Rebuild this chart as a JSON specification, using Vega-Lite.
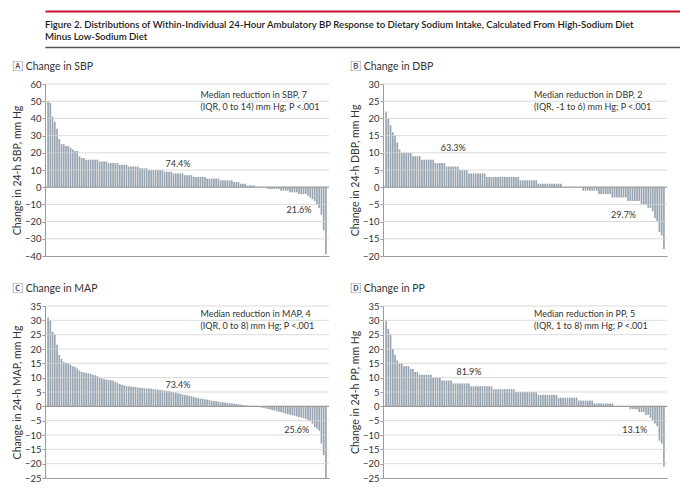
{
  "$schema": "https://vega.github.io/schema/vega-lite/v6.json",
  "padding": {"left": 12, "top": 11, "right": 4, "bottom": 0},
  "background": "white",
  "datasets": {
    "one": [{}],
    "bp": [
      {"i":1,"sbp":50,"dbp":22,"map":31,"pp":30},
      {"i":2,"sbp":49,"dbp":20,"map":30,"pp":27},
      {"i":3,"sbp":41,"dbp":18,"map":26,"pp":25},
      {"i":4,"sbp":38,"dbp":16,"map":25,"pp":20},
      {"i":5,"sbp":34,"dbp":15,"map":21.5,"pp":18},
      {"i":6,"sbp":28,"dbp":13,"map":18,"pp":16},
      {"i":7,"sbp":25,"dbp":11,"map":16.5,"pp":15},
      {"i":8,"sbp":25,"dbp":10,"map":15.5,"pp":15},
      {"i":9,"sbp":24,"dbp":10,"map":15.2,"pp":14},
      {"i":10,"sbp":24,"dbp":10,"map":15,"pp":14},
      {"i":11,"sbp":23,"dbp":10,"map":14.5,"pp":14},
      {"i":12,"sbp":22,"dbp":10,"map":14,"pp":13},
      {"i":13,"sbp":21,"dbp":9,"map":13.8,"pp":13},
      {"i":14,"sbp":21,"dbp":9,"map":13.2,"pp":12},
      {"i":15,"sbp":18,"dbp":9,"map":12.5,"pp":12},
      {"i":16,"sbp":17,"dbp":9,"map":12,"pp":11},
      {"i":17,"sbp":17,"dbp":8,"map":11.8,"pp":11},
      {"i":18,"sbp":16,"dbp":8,"map":11.7,"pp":11},
      {"i":19,"sbp":16,"dbp":8,"map":11.5,"pp":11},
      {"i":20,"sbp":16,"dbp":8,"map":11.3,"pp":11},
      {"i":21,"sbp":16,"dbp":8,"map":11,"pp":11},
      {"i":22,"sbp":16,"dbp":8,"map":10.8,"pp":10},
      {"i":23,"sbp":16,"dbp":7,"map":10.5,"pp":10},
      {"i":24,"sbp":15,"dbp":7,"map":10,"pp":10},
      {"i":25,"sbp":15,"dbp":7,"map":9.7,"pp":10},
      {"i":26,"sbp":15,"dbp":7,"map":9.5,"pp":9},
      {"i":27,"sbp":15,"dbp":7,"map":9.3,"pp":9},
      {"i":28,"sbp":14,"dbp":6,"map":9.2,"pp":9},
      {"i":29,"sbp":14,"dbp":6,"map":9.1,"pp":9},
      {"i":30,"sbp":14,"dbp":6,"map":9,"pp":9},
      {"i":31,"sbp":14,"dbp":6,"map":8.6,"pp":8},
      {"i":32,"sbp":14,"dbp":6,"map":8.2,"pp":8},
      {"i":33,"sbp":13,"dbp":6,"map":7.8,"pp":8},
      {"i":34,"sbp":13,"dbp":5,"map":7.5,"pp":8},
      {"i":35,"sbp":13,"dbp":5,"map":7.3,"pp":8},
      {"i":36,"sbp":13,"dbp":5,"map":7.1,"pp":8},
      {"i":37,"sbp":12,"dbp":5,"map":7,"pp":8},
      {"i":38,"sbp":12,"dbp":4,"map":6.9,"pp":8},
      {"i":39,"sbp":12,"dbp":4,"map":6.8,"pp":7},
      {"i":40,"sbp":12,"dbp":4,"map":6.7,"pp":7},
      {"i":41,"sbp":12,"dbp":4,"map":6.6,"pp":7},
      {"i":42,"sbp":11,"dbp":4,"map":6.5,"pp":7},
      {"i":43,"sbp":11,"dbp":4,"map":6.4,"pp":7},
      {"i":44,"sbp":11,"dbp":4,"map":6.3,"pp":7},
      {"i":45,"sbp":11,"dbp":4,"map":6.2,"pp":7},
      {"i":46,"sbp":10,"dbp":3,"map":6.2,"pp":7},
      {"i":47,"sbp":10,"dbp":3,"map":6.1,"pp":7},
      {"i":48,"sbp":10,"dbp":3,"map":6,"pp":7},
      {"i":49,"sbp":10,"dbp":3,"map":5.9,"pp":6},
      {"i":50,"sbp":10,"dbp":3,"map":5.8,"pp":6},
      {"i":51,"sbp":10,"dbp":3,"map":5.7,"pp":6},
      {"i":52,"sbp":10,"dbp":3,"map":5.6,"pp":6},
      {"i":53,"sbp":9,"dbp":3,"map":5.5,"pp":6},
      {"i":54,"sbp":9,"dbp":3,"map":5.4,"pp":6},
      {"i":55,"sbp":9,"dbp":3,"map":5.3,"pp":6},
      {"i":56,"sbp":9,"dbp":3,"map":5.1,"pp":6},
      {"i":57,"sbp":8,"dbp":3,"map":5,"pp":6},
      {"i":58,"sbp":8,"dbp":3,"map":4.8,"pp":6},
      {"i":59,"sbp":8,"dbp":3,"map":4.6,"pp":5},
      {"i":60,"sbp":8,"dbp":3,"map":4.4,"pp":5},
      {"i":61,"sbp":8,"dbp":2,"map":4.2,"pp":5},
      {"i":62,"sbp":7,"dbp":2,"map":4,"pp":5},
      {"i":63,"sbp":7,"dbp":2,"map":3.9,"pp":5},
      {"i":64,"sbp":7,"dbp":2,"map":3.7,"pp":5},
      {"i":65,"sbp":7,"dbp":2,"map":3.5,"pp":5},
      {"i":66,"sbp":6,"dbp":2,"map":3.3,"pp":5},
      {"i":67,"sbp":6,"dbp":2,"map":3.1,"pp":5},
      {"i":68,"sbp":6,"dbp":2,"map":2.9,"pp":5},
      {"i":69,"sbp":6,"dbp":1,"map":2.7,"pp":4},
      {"i":70,"sbp":6,"dbp":1,"map":2.6,"pp":4},
      {"i":71,"sbp":6,"dbp":1,"map":2.5,"pp":4},
      {"i":72,"sbp":5,"dbp":1,"map":2.3,"pp":4},
      {"i":73,"sbp":5,"dbp":1,"map":2.2,"pp":4},
      {"i":74,"sbp":5,"dbp":1,"map":2,"pp":4},
      {"i":75,"sbp":5,"dbp":1,"map":1.9,"pp":4},
      {"i":76,"sbp":5,"dbp":1,"map":1.8,"pp":4},
      {"i":77,"sbp":5,"dbp":1,"map":1.6,"pp":4},
      {"i":78,"sbp":4,"dbp":1,"map":1.5,"pp":3},
      {"i":79,"sbp":4,"dbp":1,"map":1.4,"pp":3},
      {"i":80,"sbp":4,"dbp":0,"map":1.3,"pp":3},
      {"i":81,"sbp":4,"dbp":0,"map":1.2,"pp":3},
      {"i":82,"sbp":4,"dbp":0,"map":1.1,"pp":3},
      {"i":83,"sbp":4,"dbp":0,"map":1,"pp":3},
      {"i":84,"sbp":3,"dbp":0,"map":0.9,"pp":3},
      {"i":85,"sbp":3,"dbp":0,"map":0.8,"pp":3},
      {"i":86,"sbp":3,"dbp":0,"map":0.7,"pp":3},
      {"i":87,"sbp":2,"dbp":0,"map":0.6,"pp":2},
      {"i":88,"sbp":2,"dbp":0,"map":0.5,"pp":2},
      {"i":89,"sbp":2,"dbp":-1,"map":0.4,"pp":2},
      {"i":90,"sbp":1,"dbp":-1,"map":0.3,"pp":2},
      {"i":91,"sbp":1,"dbp":-1,"map":0.2,"pp":2},
      {"i":92,"sbp":1,"dbp":-1,"map":0.1,"pp":2},
      {"i":93,"sbp":1,"dbp":-1,"map":0,"pp":2},
      {"i":94,"sbp":0,"dbp":-1,"map":-0.1,"pp":1},
      {"i":95,"sbp":0,"dbp":-1,"map":-0.2,"pp":1},
      {"i":96,"sbp":0,"dbp":-2,"map":-0.4,"pp":1},
      {"i":97,"sbp":0,"dbp":-2,"map":-0.5,"pp":1},
      {"i":98,"sbp":0,"dbp":-2,"map":-0.7,"pp":1},
      {"i":99,"sbp":-1,"dbp":-2,"map":-0.9,"pp":1},
      {"i":100,"sbp":-1,"dbp":-2,"map":-1.1,"pp":1},
      {"i":101,"sbp":-1,"dbp":-2,"map":-1.3,"pp":1},
      {"i":102,"sbp":-1,"dbp":-3,"map":-1.5,"pp":1},
      {"i":103,"sbp":-1,"dbp":-3,"map":-1.7,"pp":0},
      {"i":104,"sbp":-1,"dbp":-3,"map":-1.9,"pp":0},
      {"i":105,"sbp":-2,"dbp":-3,"map":-2.1,"pp":0},
      {"i":106,"sbp":-2,"dbp":-3,"map":-2.3,"pp":0},
      {"i":107,"sbp":-2,"dbp":-3,"map":-2.5,"pp":0},
      {"i":108,"sbp":-2,"dbp":-3,"map":-2.7,"pp":0},
      {"i":109,"sbp":-3,"dbp":-4,"map":-2.9,"pp":0},
      {"i":110,"sbp":-3,"dbp":-4,"map":-3.1,"pp":-1},
      {"i":111,"sbp":-3,"dbp":-4,"map":-3.3,"pp":-1},
      {"i":112,"sbp":-3,"dbp":-4,"map":-3.5,"pp":-1},
      {"i":113,"sbp":-4,"dbp":-4,"map":-3.7,"pp":-1},
      {"i":114,"sbp":-4,"dbp":-4,"map":-3.9,"pp":-2},
      {"i":115,"sbp":-4,"dbp":-5,"map":-4.1,"pp":-2},
      {"i":116,"sbp":-4,"dbp":-5,"map":-4.4,"pp":-2},
      {"i":117,"sbp":-5,"dbp":-5,"map":-4.8,"pp":-3},
      {"i":118,"sbp":-6,"dbp":-6,"map":-5.2,"pp":-3},
      {"i":119,"sbp":-7,"dbp":-6,"map":-6,"pp":-4},
      {"i":120,"sbp":-8,"dbp":-7,"map":-7.2,"pp":-5},
      {"i":121,"sbp":-10,"dbp":-9,"map":-7.8,"pp":-6},
      {"i":122,"sbp":-12,"dbp":-10,"map":-8.5,"pp":-7},
      {"i":123,"sbp":-16,"dbp":-13,"map":-13,"pp":-12},
      {"i":124,"sbp":-25,"dbp":-14,"map":-17,"pp":-13},
      {"i":125,"sbp":-39,"dbp":-18,"map":-25,"pp":-21}
    ]
  },
  "spacing": 14,
  "vconcat": [
    {
      "width": 656,
      "height": 36,
      "data": {"name": "one"},
      "layer": [
        {
          "mark": {"type": "text", "align": "left", "baseline": "alphabetic", "fontSize": 9.6, "fontWeight": 600, "color": "#1a1a1a", "text": "Figure 2. Distributions of Within-Individual 24-Hour Ambulatory BP Response to Dietary Sodium Intake, Calculated From High-Sodium Diet"},
          "encoding": {
            "x": {"datum": 0, "type": "quantitative", "scale": {"domain": [0, 1]}, "axis": {"orient": "top", "labels": false, "ticks": false, "grid": false, "title": null, "domainColor": "#c8102e", "domainWidth": 2}},
            "y": {"datum": 0.53, "type": "quantitative", "scale": {"domain": [0, 1]}, "axis": null}
          }
        },
        {
          "mark": {"type": "text", "align": "left", "baseline": "alphabetic", "fontSize": 9.6, "fontWeight": 600, "color": "#1a1a1a", "text": "Minus Low-Sodium Diet"},
          "encoding": {
            "x": {"datum": 0, "type": "quantitative", "scale": {"domain": [0, 1]}, "axis": {"orient": "bottom", "labels": false, "ticks": false, "grid": false, "title": null, "domainColor": "#555555", "domainWidth": 1.5}},
            "y": {"datum": 0.19, "type": "quantitative", "scale": {"domain": [0, 1]}, "axis": null}
          }
        }
      ],
      "resolve": {"scale": {"x": "independent"}}
    },
    {
      "spacing": 13,
      "vconcat": [
        {
          "columns": 2,
          "spacing": {"row": 22, "column": 20},
          "concat": [
            {
              "width": 284, "height": 172,
              "title": {"text": "🄰 Change in SBP"},
              "layer": [
                {
                  "data": {"name": "bp"},
                  "mark": {"type": "bar", "color": "#98a4b0"},
                  "encoding": {
                    "x": {"field": "i", "type": "ordinal", "scale": {"paddingInner": 0.25, "paddingOuter": 4.5}, "axis": {"labels": false, "ticks": false, "title": null, "grid": false}},
                    "y": {"field": "sbp", "type": "quantitative", "scale": {"domain": [-40, 60]}, "axis": {"values": [-40,-30,-20,-10,0,10,20,30,40,50,60], "tickCount": 30, "grid": false, "labelOverlap": false, "title": "Change in 24-h SBP, mm Hg"}}
                  }
                },
                {"data": {"name": "one"}, "mark": {"type": "rule", "color": "#d2d2d2", "strokeWidth": 1, "opacity": 0.8}, "encoding": {"y": {"datum": 60}}},
                {"data": {"name": "one"}, "mark": {"type": "rule", "color": "#d2d2d2", "strokeWidth": 1, "opacity": 0.8}, "encoding": {"y": {"datum": 50}}},
                {"data": {"name": "one"}, "mark": {"type": "rule", "color": "#d2d2d2", "strokeWidth": 1, "opacity": 0.8}, "encoding": {"y": {"datum": 40}}},
                {"data": {"name": "one"}, "mark": {"type": "rule", "color": "#d2d2d2", "strokeWidth": 1, "opacity": 0.8}, "encoding": {"y": {"datum": 30}}},
                {"data": {"name": "one"}, "mark": {"type": "rule", "color": "#d2d2d2", "strokeWidth": 1, "opacity": 0.8}, "encoding": {"y": {"datum": 20}}},
                {"data": {"name": "one"}, "mark": {"type": "rule", "color": "#d2d2d2", "strokeWidth": 1, "opacity": 0.8}, "encoding": {"y": {"datum": 10}}},
                {"data": {"name": "one"}, "mark": {"type": "rule", "color": "#d2d2d2", "strokeWidth": 1, "opacity": 0.8}, "encoding": {"y": {"datum": -10}}},
                {"data": {"name": "one"}, "mark": {"type": "rule", "color": "#d2d2d2", "strokeWidth": 1, "opacity": 0.8}, "encoding": {"y": {"datum": -20}}},
                {"data": {"name": "one"}, "mark": {"type": "rule", "color": "#d2d2d2", "strokeWidth": 1, "opacity": 0.8}, "encoding": {"y": {"datum": -30}}},
                {"data": {"name": "one"}, "mark": {"type": "rule", "color": "#9a9a9a", "strokeWidth": 1.2}, "encoding": {"y": {"datum": 0}}},
                {"data": {"name": "one"}, "mark": {"type": "text", "align": "left", "baseline": "top", "lineHeight": 12, "text": ["Median reduction in SBP, 7", "(IQR, 0 to 14) mm Hg; P <.001"]}, "encoding": {"x": {"datum": 69, "type": "ordinal"}, "y": {"datum": 56.2}}},
                {"data": {"name": "one"}, "mark": {"type": "text", "text": "74.4%"}, "encoding": {"x": {"datum": 59, "type": "ordinal"}, "y": {"datum": 13.2}}},
                {"data": {"name": "one"}, "mark": {"type": "text", "text": "21.6%"}, "encoding": {"x": {"datum": 113, "type": "ordinal"}, "y": {"datum": -13.5}}}
              ]
            },
            {
              "width": 284, "height": 172,
              "title": {"text": "🄱 Change in DBP"},
              "layer": [
                {
                  "data": {"name": "bp"},
                  "mark": {"type": "bar", "color": "#98a4b0"},
                  "encoding": {
                    "x": {"field": "i", "type": "ordinal", "scale": {"paddingInner": 0.25, "paddingOuter": 4.5}, "axis": {"labels": false, "ticks": false, "title": null, "grid": false}},
                    "y": {"field": "dbp", "type": "quantitative", "scale": {"domain": [-20, 30]}, "axis": {"values": [-20,-15,-10,-5,0,5,10,15,20,25,30], "tickCount": 30, "grid": false, "labelOverlap": false, "title": "Change in 24-h DBP, mm Hg"}}
                  }
                },
                {"data": {"name": "one"}, "mark": {"type": "rule", "color": "#d2d2d2", "strokeWidth": 1, "opacity": 0.8}, "encoding": {"y": {"datum": 30}}},
                {"data": {"name": "one"}, "mark": {"type": "rule", "color": "#d2d2d2", "strokeWidth": 1, "opacity": 0.8}, "encoding": {"y": {"datum": 25}}},
                {"data": {"name": "one"}, "mark": {"type": "rule", "color": "#d2d2d2", "strokeWidth": 1, "opacity": 0.8}, "encoding": {"y": {"datum": 20}}},
                {"data": {"name": "one"}, "mark": {"type": "rule", "color": "#d2d2d2", "strokeWidth": 1, "opacity": 0.8}, "encoding": {"y": {"datum": 15}}},
                {"data": {"name": "one"}, "mark": {"type": "rule", "color": "#d2d2d2", "strokeWidth": 1, "opacity": 0.8}, "encoding": {"y": {"datum": 10}}},
                {"data": {"name": "one"}, "mark": {"type": "rule", "color": "#d2d2d2", "strokeWidth": 1, "opacity": 0.8}, "encoding": {"y": {"datum": 5}}},
                {"data": {"name": "one"}, "mark": {"type": "rule", "color": "#d2d2d2", "strokeWidth": 1, "opacity": 0.8}, "encoding": {"y": {"datum": -5}}},
                {"data": {"name": "one"}, "mark": {"type": "rule", "color": "#d2d2d2", "strokeWidth": 1, "opacity": 0.8}, "encoding": {"y": {"datum": -10}}},
                {"data": {"name": "one"}, "mark": {"type": "rule", "color": "#d2d2d2", "strokeWidth": 1, "opacity": 0.8}, "encoding": {"y": {"datum": -15}}},
                {"data": {"name": "one"}, "mark": {"type": "rule", "color": "#9a9a9a", "strokeWidth": 1.2}, "encoding": {"y": {"datum": 0}}},
                {"data": {"name": "one"}, "mark": {"type": "text", "align": "left", "baseline": "top", "lineHeight": 12, "text": ["Median reduction in DBP, 2", "(IQR, -1 to 6) mm Hg; P <.001"]}, "encoding": {"x": {"datum": 67, "type": "ordinal"}, "y": {"datum": 28.1}}},
                {"data": {"name": "one"}, "mark": {"type": "text", "text": "63.3%"}, "encoding": {"x": {"datum": 31, "type": "ordinal"}, "y": {"datum": 11.3}}},
                {"data": {"name": "one"}, "mark": {"type": "text", "text": "29.7%"}, "encoding": {"x": {"datum": 107, "type": "ordinal"}, "y": {"datum": -8}}}
              ]
            },
            {
              "width": 284, "height": 172,
              "title": {"text": "🄲 Change in MAP"},
              "layer": [
                {
                  "data": {"name": "bp"},
                  "mark": {"type": "bar", "color": "#98a4b0"},
                  "encoding": {
                    "x": {"field": "i", "type": "ordinal", "scale": {"paddingInner": 0.25, "paddingOuter": 4.5}, "axis": {"labels": false, "ticks": false, "title": null, "grid": false}},
                    "y": {"field": "map", "type": "quantitative", "scale": {"domain": [-25, 35]}, "axis": {"values": [-25,-20,-15,-10,-5,0,5,10,15,20,25,30,35], "tickCount": 30, "grid": false, "labelOverlap": false, "title": "Change in 24-h MAP, mm Hg"}}
                  }
                },
                {"data": {"name": "one"}, "mark": {"type": "rule", "color": "#d2d2d2", "strokeWidth": 1, "opacity": 0.8}, "encoding": {"y": {"datum": 35}}},
                {"data": {"name": "one"}, "mark": {"type": "rule", "color": "#d2d2d2", "strokeWidth": 1, "opacity": 0.8}, "encoding": {"y": {"datum": 30}}},
                {"data": {"name": "one"}, "mark": {"type": "rule", "color": "#d2d2d2", "strokeWidth": 1, "opacity": 0.8}, "encoding": {"y": {"datum": 25}}},
                {"data": {"name": "one"}, "mark": {"type": "rule", "color": "#d2d2d2", "strokeWidth": 1, "opacity": 0.8}, "encoding": {"y": {"datum": 20}}},
                {"data": {"name": "one"}, "mark": {"type": "rule", "color": "#d2d2d2", "strokeWidth": 1, "opacity": 0.8}, "encoding": {"y": {"datum": 15}}},
                {"data": {"name": "one"}, "mark": {"type": "rule", "color": "#d2d2d2", "strokeWidth": 1, "opacity": 0.8}, "encoding": {"y": {"datum": 10}}},
                {"data": {"name": "one"}, "mark": {"type": "rule", "color": "#d2d2d2", "strokeWidth": 1, "opacity": 0.8}, "encoding": {"y": {"datum": 5}}},
                {"data": {"name": "one"}, "mark": {"type": "rule", "color": "#d2d2d2", "strokeWidth": 1, "opacity": 0.8}, "encoding": {"y": {"datum": -5}}},
                {"data": {"name": "one"}, "mark": {"type": "rule", "color": "#d2d2d2", "strokeWidth": 1, "opacity": 0.8}, "encoding": {"y": {"datum": -10}}},
                {"data": {"name": "one"}, "mark": {"type": "rule", "color": "#d2d2d2", "strokeWidth": 1, "opacity": 0.8}, "encoding": {"y": {"datum": -15}}},
                {"data": {"name": "one"}, "mark": {"type": "rule", "color": "#d2d2d2", "strokeWidth": 1, "opacity": 0.8}, "encoding": {"y": {"datum": -20}}},
                {"data": {"name": "one"}, "mark": {"type": "rule", "color": "#9a9a9a", "strokeWidth": 1.2}, "encoding": {"y": {"datum": 0}}},
                {"data": {"name": "one"}, "mark": {"type": "text", "align": "left", "baseline": "top", "lineHeight": 12, "text": ["Median reduction in MAP, 4", "(IQR, 0 to 8) mm Hg;  P <.001"]}, "encoding": {"x": {"datum": 69, "type": "ordinal"}, "y": {"datum": 33.7}}},
                {"data": {"name": "one"}, "mark": {"type": "text", "text": "73.4%"}, "encoding": {"x": {"datum": 59, "type": "ordinal"}, "y": {"datum": 7.5}}},
                {"data": {"name": "one"}, "mark": {"type": "text", "text": "25.6%"}, "encoding": {"x": {"datum": 112, "type": "ordinal"}, "y": {"datum": -8.4}}}
              ]
            },
            {
              "width": 284, "height": 172,
              "title": {"text": "🄳 Change in PP"},
              "layer": [
                {
                  "data": {"name": "bp"},
                  "mark": {"type": "bar", "color": "#98a4b0"},
                  "encoding": {
                    "x": {"field": "i", "type": "ordinal", "scale": {"paddingInner": 0.25, "paddingOuter": 4.5}, "axis": {"labels": false, "ticks": false, "title": null, "grid": false}},
                    "y": {"field": "pp", "type": "quantitative", "scale": {"domain": [-25, 35]}, "axis": {"values": [-25,-20,-15,-10,-5,0,5,10,15,20,25,30,35], "tickCount": 30, "grid": false, "labelOverlap": false, "title": "Change in 24-h PP, mm Hg"}}
                  }
                },
                {"data": {"name": "one"}, "mark": {"type": "rule", "color": "#d2d2d2", "strokeWidth": 1, "opacity": 0.8}, "encoding": {"y": {"datum": 35}}},
                {"data": {"name": "one"}, "mark": {"type": "rule", "color": "#d2d2d2", "strokeWidth": 1, "opacity": 0.8}, "encoding": {"y": {"datum": 30}}},
                {"data": {"name": "one"}, "mark": {"type": "rule", "color": "#d2d2d2", "strokeWidth": 1, "opacity": 0.8}, "encoding": {"y": {"datum": 25}}},
                {"data": {"name": "one"}, "mark": {"type": "rule", "color": "#d2d2d2", "strokeWidth": 1, "opacity": 0.8}, "encoding": {"y": {"datum": 20}}},
                {"data": {"name": "one"}, "mark": {"type": "rule", "color": "#d2d2d2", "strokeWidth": 1, "opacity": 0.8}, "encoding": {"y": {"datum": 15}}},
                {"data": {"name": "one"}, "mark": {"type": "rule", "color": "#d2d2d2", "strokeWidth": 1, "opacity": 0.8}, "encoding": {"y": {"datum": 10}}},
                {"data": {"name": "one"}, "mark": {"type": "rule", "color": "#d2d2d2", "strokeWidth": 1, "opacity": 0.8}, "encoding": {"y": {"datum": 5}}},
                {"data": {"name": "one"}, "mark": {"type": "rule", "color": "#d2d2d2", "strokeWidth": 1, "opacity": 0.8}, "encoding": {"y": {"datum": -5}}},
                {"data": {"name": "one"}, "mark": {"type": "rule", "color": "#d2d2d2", "strokeWidth": 1, "opacity": 0.8}, "encoding": {"y": {"datum": -10}}},
                {"data": {"name": "one"}, "mark": {"type": "rule", "color": "#d2d2d2", "strokeWidth": 1, "opacity": 0.8}, "encoding": {"y": {"datum": -15}}},
                {"data": {"name": "one"}, "mark": {"type": "rule", "color": "#d2d2d2", "strokeWidth": 1, "opacity": 0.8}, "encoding": {"y": {"datum": -20}}},
                {"data": {"name": "one"}, "mark": {"type": "rule", "color": "#9a9a9a", "strokeWidth": 1.2}, "encoding": {"y": {"datum": 0}}},
                {"data": {"name": "one"}, "mark": {"type": "text", "align": "left", "baseline": "top", "lineHeight": 12, "text": ["Median reduction in PP, 5", "(IQR, 1 to 8) mm Hg; P <.001"]}, "encoding": {"x": {"datum": 67, "type": "ordinal"}, "y": {"datum": 33.7}}},
                {"data": {"name": "one"}, "mark": {"type": "text", "text": "81.9%"}, "encoding": {"x": {"datum": 38, "type": "ordinal"}, "y": {"datum": 12.1}}},
                {"data": {"name": "one"}, "mark": {"type": "text", "text": "13.1%"}, "encoding": {"x": {"datum": 112, "type": "ordinal"}, "y": {"datum": -8.2}}}
              ]
            }
          ]
        },
        {
          "width": 656,
          "height": 1,
          "data": {"name": "one"},
          "mark": {"type": "text", "text": " "},
          "encoding": {
            "x": {"datum": 0, "type": "quantitative", "scale": {"domain": [0, 1]}, "axis": {"orient": "top", "labels": false, "ticks": false, "grid": false, "title": null, "domainColor": "#555555", "domainWidth": 1.5}}
          }
        }
      ]
    }
  ],
  "config": {
    "font": "Lato, Noto Sans CJK JP, sans-serif",
    "view": {"stroke": null},
    "axis": {
      "domainColor": "#9a9a9a",
      "tickColor": "#9a9a9a",
      "tickSize": 3,
      "labelFontSize": 9.5,
      "labelColor": "#333333",
      "labelPadding": 1,
      "titleFontSize": 10.5,
      "titleFontWeight": "normal",
      "titleColor": "#333333",
      "titlePadding": 2
    },
    "title": {"anchor": "start", "fontSize": 10.5, "fontWeight": "normal", "color": "#333333", "offset": 7},
    "text": {"fontSize": 9, "color": "#333333"}
  }
}
